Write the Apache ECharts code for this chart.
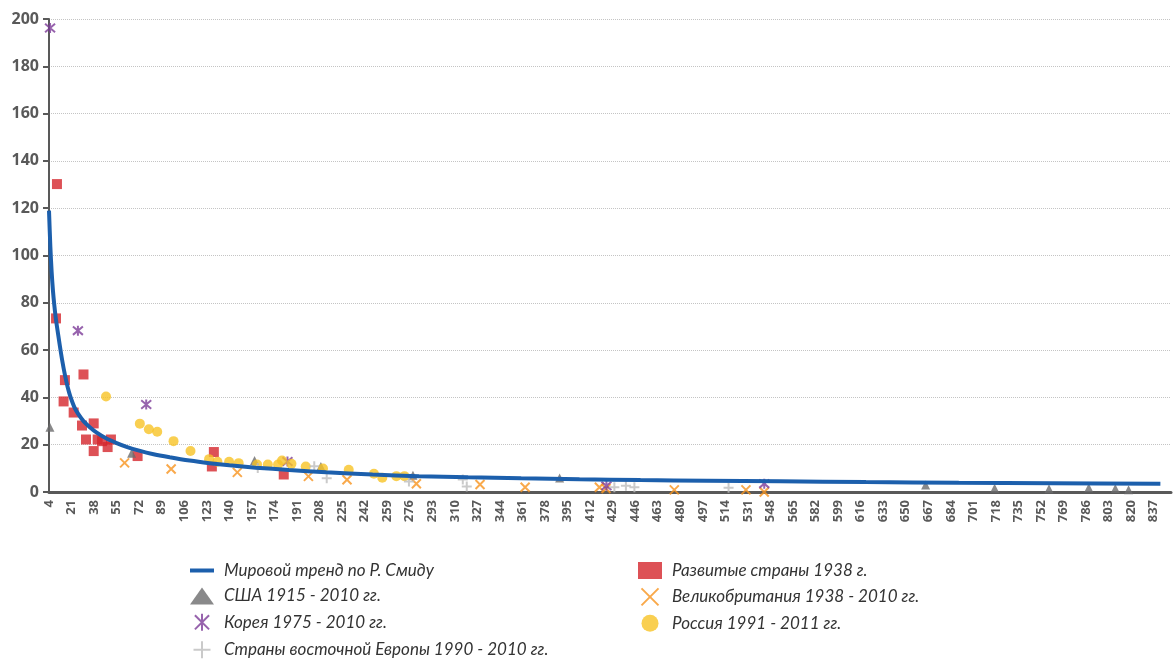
<!DOCTYPE html>
<html>
<head>
<meta charset="utf-8">
<script src="https://cdn.jsdelivr.net/npm/echarts@6/dist/echarts.min.js"></script>
<style>
  html, body { margin: 0; padding: 0; background: #fff; }
  #chart { width: 1173px; height: 659px; }
</style>
</head>
<body>
<div id="chart"></div>
<script>
// [x, y] pairs
const trend = [
  [4, 119], [5, 104], [6, 93], [7, 85], [8, 79], [9, 74], [10, 70], [12, 62.5], [14, 55.5],
  [16, 49.5], [18, 44.5], [20, 40.5], [23, 36], [26, 33], [30, 30], [35, 27.3], [40, 25.1],
  [47, 22.7], [55, 20.7], [63, 19.0], [72, 17.5], [82, 16.1], [95, 14.7], [110, 13.3],
  [125, 12.2], [140, 11.3], [160, 10.3], [185, 9.3], [213, 8.3], [248, 7.4], [283, 6.7],
  [320, 6.2], [360, 5.8], [404, 5.4], [450, 5.05], [500, 4.75], [555, 4.5], [620, 4.2],
  [690, 3.95], [760, 3.75], [842, 3.5]
]
const developed = [
  [10, 130.2], [9.3, 73.4], [16, 47.3], [30, 49.7], [15, 38.3], [22.6, 33.6], [28.9, 28.1],
  [37.7, 29.0], [31.9, 22.2], [40.7, 22.2], [44, 21.5], [50.7, 22.2], [37.7, 17.3], [48.2, 19.0],
  [70.8, 15.2], [128.3, 16.9], [126.8, 10.8], [181, 7.4]
]
const usa = [
  [4.7, 27.4], [66.3, 16.4], [159, 13.3], [209, 10.8], [278.4, 7.1], [389, 5.9], [665, 3.0],
  [717, 1.6], [758, 1.35], [788, 1.8], [808, 1.5], [818, 0.9]
]
const uk = [
  [61, 12.3], [96.1, 9.7], [146, 8.3], [199.6, 6.6], [228.7, 5.2], [281, 3.5], [329, 3.2],
  [363, 2.0], [419, 2.0], [424, 1.5], [475.5, 0.9], [529.5, 0.9], [543.3, 0]
]
const korea = [
  [4.8, 196.2], [25.8, 68.2], [77.3, 37.0], [183.8, 12.9], [424.3, 2.6], [543.3, 3.5]
]
const russia = [
  [47, 40.4], [72.5, 28.9], [79.3, 26.5], [85.6, 25.5], [97.9, 21.5], [110.7, 17.3],
  [124.7, 13.9], [131, 12.8], [139.8, 12.8], [147, 12.2], [160.9, 11.6], [169, 11.6],
  [176.7, 11.6], [179.7, 13.3], [186.8, 11.9], [197.6, 10.8], [210.6, 9.9], [230, 9.4],
  [249, 7.7], [255.3, 6.0], [265.9, 6.7], [272, 6.7]
]
const eastEurope = [
  [161.4, 10.2], [204, 10.9], [213.4, 5.8], [275.4, 4.4], [316, 5.3], [319, 2.3],
  [430.3, 2.0], [439, 2.6], [445.4, 2.0], [516.4, 1.8]
]
const seriesNames = [
  'Мировой тренд по Р. Смиду',
  'Развитые страны 1938 г.',
  'США 1915 - 2010 гг.',
  'Великобритания 1938 - 2010 гг.',
  'Корея 1975 - 2010 гг.',
  'Россия 1991 - 2011 гг.',
  'Страны восточной Европы 1990 - 2010 гг.'
]

const axisGray = '#595959'
const trendBlue = '#1c5fac'
const crossPath = 'path://M0,0 L10,10 M10,0 L0,10'
const starPath = 'path://M0,0 L10,10 M10,0 L0,10 M5,-1 L5,11'
const plusPath = 'path://M5,0 L5,10 M0,5 L10,5'
const lineIcon = 'path://M0,0 L24,0 L24,4 L0,4 Z'

const chart = echarts.init(document.getElementById('chart'))

const legendText = {
  fontFamily: 'Lato',
  fontStyle: 'italic',
  fontSize: 17,
  lineHeight: 17,
  color: '#333333',
  padding: [0, 0, 0, 5]
}
const legendBase = {
  orient: 'vertical',
  top: 562,
  height: 120,
  padding: 0,
  itemWidth: 24,
  itemHeight: 17,
  itemGap: 8.4,
  textStyle: legendText
}

chart.setOption({
  animation: false,
  grid: { left: 49, right: 2, top: 19, bottom: 167 },
  legend: [
    Object.assign({}, legendBase, {
      left: 190,
      data: [
        { name: seriesNames[0], icon: lineIcon },
        seriesNames[2], seriesNames[4], seriesNames[6]
      ]
    }),
    Object.assign({}, legendBase, {
      left: 638,
      data: [seriesNames[1], seriesNames[3], seriesNames[5]]
    })
  ],
  xAxis: {
    type: 'value',
    min: 4,
    max: 850,
    interval: 17,
    axisLine: { lineStyle: { color: axisGray, width: 3 } },
    axisTick: { show: false },
    splitLine: { show: false },
    axisLabel: {
      rotate: 90,
      showMaxLabel: false,
      margin: 8,
      fontFamily: 'Open Sans',
      fontWeight: 'bold',
      fontSize: 13,
      color: axisGray
    }
  },
  yAxis: {
    type: 'value',
    min: 0,
    max: 200,
    interval: 20,
    axisLine: { show: true, lineStyle: { color: axisGray, width: 2 } },
    axisTick: { show: true, length: 6, lineStyle: { color: axisGray, width: 2 } },
    splitLine: { lineStyle: { color: '#c4c4c4', type: 'dotted', width: 1 } },
    axisLabel: {
      margin: 10,
      fontFamily: 'Open Sans',
      fontWeight: 'bold',
      fontSize: 16,
      color: axisGray
    }
  },
  series: [
    {
      name: seriesNames[0],
      type: 'line',
      data: trend,
      smooth: 0.3,
      symbol: 'none',
      z: 3,
      lineStyle: { color: trendBlue, width: 4 },
      itemStyle: { color: trendBlue }
    },
    {
      name: seriesNames[1],
      type: 'scatter',
      data: developed,
      symbol: 'rect',
      symbolSize: 10,
      itemStyle: { color: '#d5252c' }
    },
    {
      name: seriesNames[2],
      type: 'scatter',
      data: usa,
      symbol: 'triangle',
      symbolSize: 9,
      itemStyle: { color: '#6b6b6d' }
    },
    {
      name: seriesNames[3],
      type: 'scatter',
      data: uk,
      symbol: crossPath,
      symbolSize: 9,
      itemStyle: { color: 'transparent', borderColor: '#f7931e', borderWidth: 2 }
    },
    {
      name: seriesNames[4],
      type: 'scatter',
      data: korea,
      symbol: starPath,
      symbolSize: 10,
      itemStyle: { color: 'transparent', borderColor: '#7d3c98', borderWidth: 2 }
    },
    {
      name: seriesNames[5],
      type: 'scatter',
      data: russia,
      symbol: 'circle',
      symbolSize: 10,
      itemStyle: { color: '#f7c325' }
    },
    {
      name: seriesNames[6],
      type: 'scatter',
      data: eastEurope,
      symbol: plusPath,
      symbolSize: 10,
      itemStyle: { color: 'transparent', borderColor: '#bdbdbd', borderWidth: 2 }
    }
  ]
})
</script>
</body>
</html>
